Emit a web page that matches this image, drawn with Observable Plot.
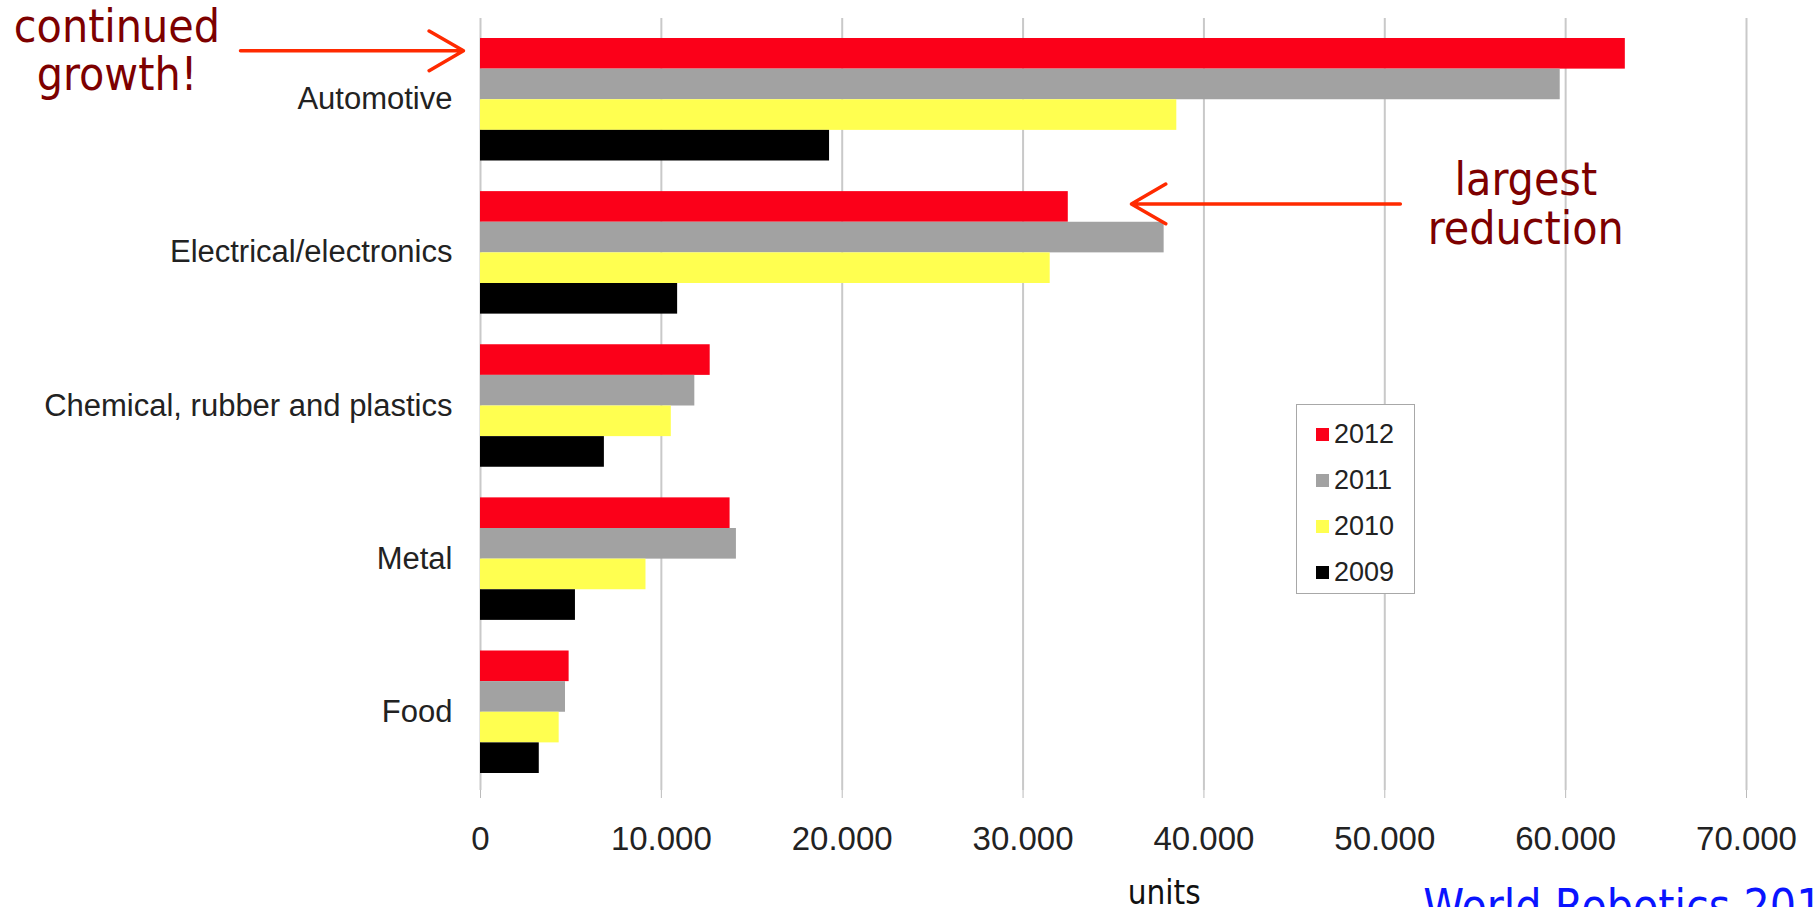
<!DOCTYPE html>
<html>
<head>
<meta charset="utf-8">
<script src="https://cdn.jsdelivr.net/npm/d3@7"></script>
<script src="https://cdn.jsdelivr.net/npm/@observablehq/plot@0.6"></script>
<style>
  html, body { margin: 0; padding: 0; background: #fff; }
  #wrap { position: relative; width: 1814px; height: 907px; overflow: hidden; }
  #legend { position: absolute; left: 1296px; top: 404px; width: 119px; height: 190px;
    border: 1px solid #a8a8a8; background: #fff; box-sizing: border-box; padding-top: 6px;
    font-family: "Liberation Sans", Arial, sans-serif; font-size: 27px; color: #222; }
  #legend .row { height: 46px; display: flex; align-items: center; padding-left: 19px; }
  #legend .sw { width: 13px; height: 13px; margin-right: 5px; }
</style>
</head>
<body>
<div id="wrap"></div>
<script>
// ---- data ----
const categories = ["Automotive", "Electrical/electronics", "Chemical, rubber and plastics", "Metal", "Food"];
const years = ["2012", "2011", "2010", "2009"];
const colors = ["#fb0019", "#a2a2a2", "#ffff50", "#000000"];
const v2012 = [63300, 32500, 12700, 13800, 4900];
const v2011 = [59700, 37800, 11850, 14150, 4700];
const v2010 = [38500, 31500, 10550, 9150, 4350];
const v2009 = [19300, 10900, 6850, 5250, 3250];
const xTicks = [0, 10000, 20000, 30000, 40000, 50000, 60000, 70000];
const noteTexts = ["continued\ngrowth!", "largest\nreduction"];
const noteCats = ["Automotive", "Electrical/electronics"];
const noteX = [-20100, 57800];
const arrowFrom = [-13270, 50860];
const arrowTo = [-940, 35990];
const axisLabel = "units";
const sourceText = "World Robotics 2013";

// ---- build table ----
const series = [v2012, v2011, v2010, v2009];
const key = (c, y) => c + "|" + y;
const rows = [];
categories.forEach((c, i) => years.forEach((y, j) => rows.push({category: c, year: y, value: series[j][i], key: key(c, y)})));
const yDomain = [];
categories.forEach((c, i) => {
  years.forEach(y => yDomain.push(key(c, y)));
  if (i < categories.length - 1) yDomain.push("gap" + i);
});
const notes = noteTexts.map((t, i) => ({text: t, x: noteX[i], key: key(noteCats[i], "2012")}));
const arrows = arrowFrom.map((x1, i) => ({x1, x2: arrowTo[i], key: key(noteCats[i], "2012")}));
const fmt = d => d === 0 ? "0" : d3.format(",")(d).replace(/,/g, ".");
const annoFont = "'DejaVu Sans Condensed', 'DejaVu Sans', sans-serif";

const chart = Plot.plot({
  width: 1814,
  height: 907,
  marginLeft: 480,
  marginRight: 68,
  marginTop: 18,
  marginBottom: 117,
  style: {fontFamily: "'Liberation Sans', Arial, sans-serif", background: "#fff", overflow: "visible"},
  x: {domain: [0, 70000], label: null},
  y: {domain: yDomain, type: "band", padding: 0, round: false, insetTop: 20, insetBottom: 17, axis: null},
  color: {domain: years, range: colors},
  marks: [
    Plot.gridX(xTicks, {stroke: "#c9c9c9", strokeOpacity: 1, strokeWidth: 2}),
    Plot.axisX(xTicks, {tickFormat: fmt, tickSize: 8, tickPadding: 28, stroke: "#bbb", fill: "#222", fontSize: 33, label: null}),
    Plot.barX(rows, {x: "value", y: "key", fill: "year"}),
    Plot.text(categories, {x: 0, y: c => key(c, "2011"), text: d => d, textAnchor: "end", dx: -28, dy: 15, fontSize: 31, fill: "#222"}),
    Plot.arrow(arrows, {x1: "x1", x2: "x2", y1: "key", y2: "key", dy: -3, stroke: "#ff2a00", strokeWidth: 3.5, headLength: 17, bend: 0}),
    Plot.text(notes, {x: "x", y: "key", text: "text", textAnchor: "middle", lineAnchor: "middle", lineHeight: 1.05, dy: -3, fontSize: 46, fill: "#7d0000", fontFamily: annoFont}),
    Plot.text([axisLabel], {x: 37800, frameAnchor: "bottom", lineAnchor: "top", dy: 90, fontSize: 33, fill: "#111", fontFamily: annoFont}),
    Plot.text([sourceText], {x: 52130, frameAnchor: "bottom", textAnchor: "start", lineAnchor: "top", dy: 99, fontSize: 46, fill: "#0a14ff", fontFamily: annoFont})
  ]
});
const wrap = document.getElementById("wrap");
wrap.appendChild(chart);

// legend
const legend = document.createElement("div");
legend.id = "legend";
years.forEach((y, i) => {
  const row = document.createElement("div");
  row.className = "row";
  const sw = document.createElement("div");
  sw.className = "sw";
  sw.style.background = colors[i];
  const t = document.createElement("span");
  t.textContent = y;
  row.appendChild(sw); row.appendChild(t);
  legend.appendChild(row);
});
wrap.appendChild(legend);
</script>
</body>
</html>
